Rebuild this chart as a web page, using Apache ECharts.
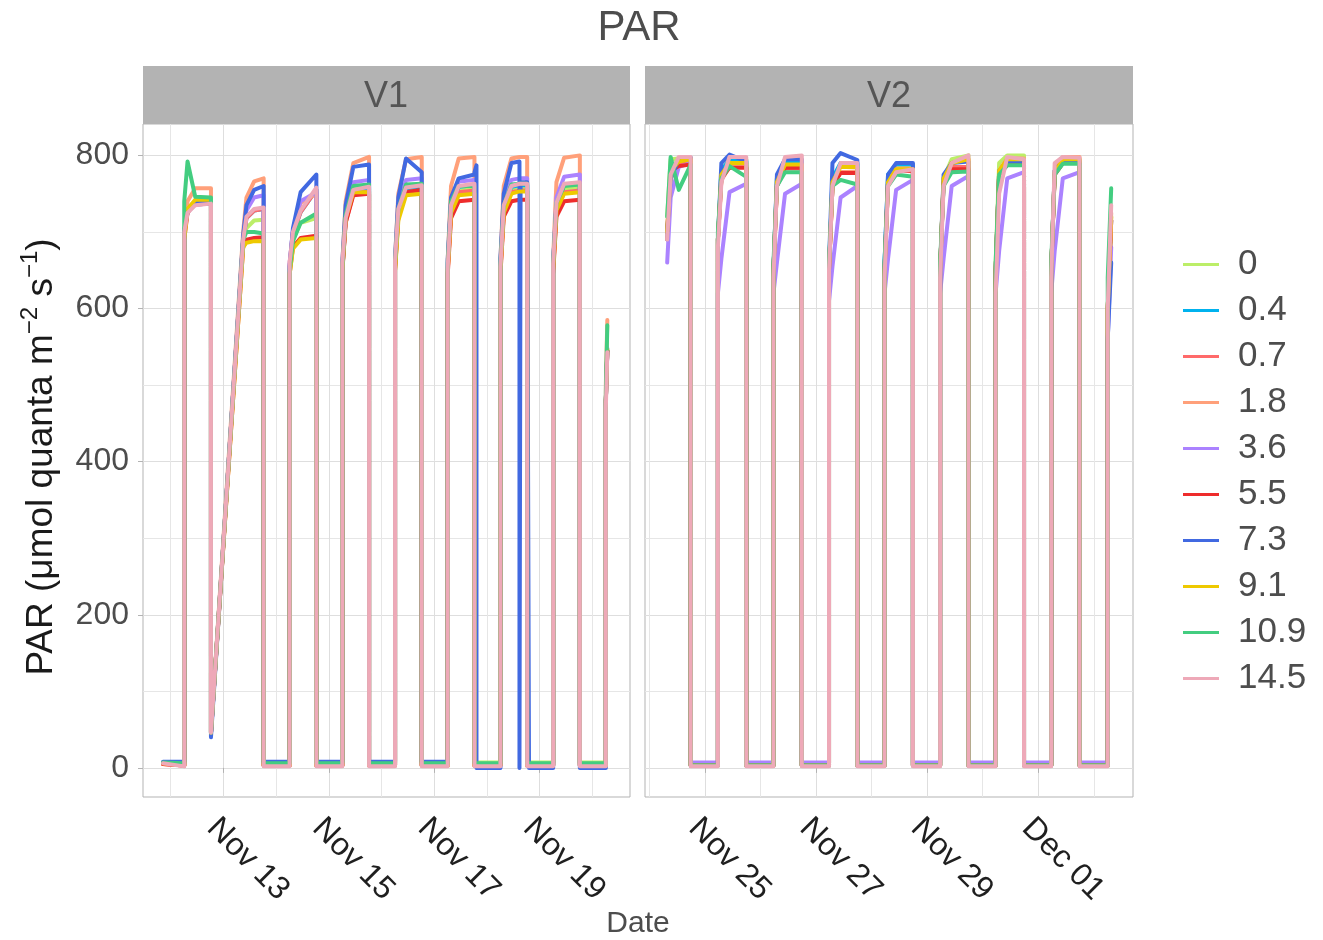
<!DOCTYPE html>
<html>
<head>
<meta charset="utf-8">
<script src="https://cdn.jsdelivr.net/npm/echarts@6/dist/echarts.min.js"></script>
<style>
  html, body { margin: 0; padding: 0; background: #ffffff; }
  #chart { width: 1323px; height: 940px; }
</style>
</head>
<body>
<div id="chart"></div>
<script>
// PAR logger traces for two tanks (V1, V2), one line per sensor depth.
const YEAR = 2023;
const seriesNames = ['0', '0.4', '0.7', '1.8', '3.6', '5.5', '7.3', '9.1', '10.9', '14.5'];
const seriesColors = ['#BCEE68', '#00B2EE', '#FF6A6A', '#FFA07A', '#AB82FF',
                      '#EE2C2C', '#4169E1', '#EEC900', '#43CD80', '#EEA9B8'];

// ---- V1: sample times, grouped by light period ----
const v1Times = [
  ['11-11 20:30'],
  ['11-12 06:10', '11-12 06:10', '11-12 07:40', '11-12 11:10', '11-12 18:20', '11-12 18:20'],
  ['11-13 09:00', '11-13 10:30', '11-13 14:00', '11-13 18:20', '11-13 18:20'],
  ['11-14 06:10', '11-14 06:10', '11-14 07:40', '11-14 11:10', '11-14 18:20', '11-14 18:20'],
  ['11-15 06:10', '11-15 06:10', '11-15 07:40', '11-15 11:10', '11-15 18:20', '11-15 18:20'],
  ['11-16 06:10', '11-16 06:10', '11-16 07:40', '11-16 11:10', '11-16 18:20', '11-16 18:20'],
  ['11-17 06:10', '11-17 06:10', '11-17 07:40', '11-17 11:10', '11-17 18:20', '11-17 18:20', '11-17 19:15', '11-17 19:15'],
  ['11-18 06:10', '11-18 06:10', '11-18 07:40', '11-18 11:10', '11-18 14:50', '11-18 14:50', '11-18 15:20', '11-18 15:20', '11-18 18:20', '11-18 18:20', '11-18 19:10', '11-18 19:10'],
  ['11-19 06:10', '11-19 06:10', '11-19 07:40', '11-19 11:10', '11-19 18:20', '11-19 18:20'],
  ['11-20 06:10', '11-20 06:10', '11-20 06:50']
];

// ---- V1 readings (µmol quanta m-2 s-1) ----
const v1_0 = [[7], [7, 700, 728, 737, 738, 45], [688, 705, 715, 716, 7], [7, 650, 690, 712, 718, 7], [7, 650, 715, 753, 756, 7], [7, 655, 725, 756, 758, 7], [7, 655, 730, 757, 758, 7, 7, 7], [7, 655, 730, 757, 758, 758, 758, 758, 758, 7, 7, 7], [7, 655, 730, 757, 758, 7], [7, 480, 548]];
const v1_04 = [[6], [3, 700, 726, 736, 737, 45], [690, 718, 728, 730, 3], [3, 655, 698, 726, 755, 3], [3, 650, 715, 754, 758, 3], [3, 655, 725, 757, 759, 3], [3, 655, 732, 759, 761, 3, 3, 3], [3, 655, 732, 759, 761, 761, 761, 761, 761, 3, 3, 3], [3, 658, 735, 762, 764, 3], [3, 480, 545]];
const v1_07 = [[5], [3, 700, 726, 736, 737, 45], [690, 718, 728, 730, 3], [3, 655, 698, 726, 755, 3], [3, 650, 712, 750, 753, 3], [3, 652, 722, 752, 754, 3], [3, 650, 725, 752, 754, 3, 3, 3], [3, 650, 725, 752, 754, 754, 754, 754, 754, 3, 3, 3], [3, 650, 725, 752, 754, 3], [3, 480, 545]];
const v1_18 = [[5], [3, 700, 740, 757, 757, 47], [700, 745, 766, 770, 3], [3, 660, 700, 738, 750, 3], [3, 660, 740, 790, 798, 3], [3, 665, 750, 795, 798, 3], [3, 665, 760, 796, 798, 3, 3, 3], [3, 665, 760, 796, 798, 798, 798, 798, 798, 3, 3, 3], [3, 665, 765, 797, 800, 3], [3, 500, 585]];
const v1_36 = [[6], [4, 700, 726, 736, 737, 45], [690, 728, 745, 748, 4], [4, 660, 702, 740, 752, 4], [4, 655, 720, 765, 768, 4], [4, 660, 730, 768, 770, 4], [4, 660, 740, 766, 768, 4, 4, 4], [4, 660, 740, 768, 770, 770, 770, 770, 770, 4, 4, 4], [4, 660, 745, 772, 775, 4], [4, 480, 548]];
const v1_55 = [[5], [3, 690, 725, 740, 740, 45], [680, 690, 692, 693, 3], [3, 645, 680, 692, 695, 3], [3, 648, 712, 748, 750, 3], [3, 650, 720, 752, 755, 3], [3, 645, 718, 740, 742, 3, 3, 3], [3, 645, 720, 740, 742, 742, 742, 742, 742, 3, 3, 3], [3, 645, 720, 740, 742, 3], [3, 480, 545]];
const v1_73 = [[8], [8, 700, 728, 738, 738, 40], [695, 735, 755, 760, 8], [8, 655, 705, 752, 775, 8], [8, 660, 735, 785, 788, 8], [8, 665, 745, 796, 778, 8], [8, 665, 745, 770, 775, 778, 787, 0], [0, 665, 750, 790, 792, 0, 0, 765, 765, 765, 765, 0], [0, 660, 735, 762, 764, 0], [0, 480, 545]];
const v1_91 = [[6], [3, 690, 730, 742, 742, 46], [680, 686, 688, 688, 3], [3, 645, 678, 690, 692, 3], [3, 650, 718, 752, 752, 3], [3, 648, 715, 748, 750, 3], [3, 650, 725, 748, 750, 3, 3, 3], [3, 650, 725, 750, 753, 753, 753, 753, 753, 3, 3, 3], [3, 650, 728, 750, 752, 3], [3, 480, 546]];
const v1_109 = [[7], [6, 740, 792, 746, 745, 46], [690, 700, 700, 698, 6], [6, 650, 688, 712, 724, 6], [6, 655, 722, 760, 762, 6], [6, 660, 730, 762, 763, 6], [6, 660, 740, 760, 760, 6, 6, 6], [6, 660, 735, 762, 763, 763, 763, 763, 763, 6, 6, 6], [6, 660, 738, 760, 762, 6], [6, 490, 578]];
const v1_145 = [[6], [2, 700, 725, 735, 737, 46], [690, 720, 730, 732, 2], [2, 660, 700, 728, 758, 2], [2, 660, 718, 755, 759, 2], [2, 663, 730, 758, 761, 2], [2, 655, 735, 760, 763, 2, 2, 2], [2, 655, 735, 760, 763, 763, 763, 763, 763, 2, 2, 2], [2, 658, 738, 763, 765, 2], [2, 470, 543]];

// ---- V2: sample times ----
const v2Times = [
  ['11-24 07:40', '11-24 09:10', '11-24 12:40', '11-24 17:50', '11-24 17:50'],
  ['11-25 05:35', '11-25 05:35', '11-25 07:05', '11-25 10:35', '11-25 17:50', '11-25 17:50'],
  ['11-26 05:35', '11-26 05:35', '11-26 07:05', '11-26 10:35', '11-26 17:50', '11-26 17:50'],
  ['11-27 05:35', '11-27 05:35', '11-27 07:05', '11-27 10:35', '11-27 17:50', '11-27 17:50'],
  ['11-28 05:35', '11-28 05:35', '11-28 07:05', '11-28 10:35', '11-28 17:50', '11-28 17:50'],
  ['11-29 05:35', '11-29 05:35', '11-29 07:05', '11-29 10:35', '11-29 17:50', '11-29 17:50'],
  ['11-30 05:35', '11-30 05:35', '11-30 07:05', '11-30 10:35', '11-30 17:50', '11-30 17:50'],
  ['12-01 05:35', '12-01 05:35', '12-01 07:05', '12-01 10:35', '12-01 17:50', '12-01 17:50'],
  ['12-02 06:00', '12-02 06:00', '12-02 07:30']
];

// ---- V2 readings ----
const v2_0 = [[720, 795, 796, 796, 3], [3, 690, 780, 795, 795, 3], [3, 650, 770, 794, 794, 3], [3, 650, 770, 788, 788, 3], [3, 650, 770, 785, 785, 3], [3, 650, 770, 795, 800, 3], [3, 660, 790, 800, 800, 3], [3, 650, 780, 795, 795, 3], [3, 600, 720]];
const v2_04 = [[690, 780, 795, 797, 3], [3, 690, 780, 794, 794, 3], [3, 650, 770, 792, 792, 3], [3, 650, 770, 790, 790, 3], [3, 660, 775, 788, 788, 3], [3, 650, 765, 783, 783, 3], [3, 650, 778, 790, 790, 3], [3, 650, 780, 792, 792, 3], [3, 600, 715]];
const v2_07 = [[690, 770, 788, 790, 3], [3, 690, 768, 785, 785, 3], [3, 650, 760, 783, 783, 3], [3, 650, 760, 778, 778, 3], [3, 650, 765, 780, 780, 3], [3, 650, 765, 785, 785, 3], [3, 650, 775, 788, 788, 3], [3, 650, 775, 790, 790, 3], [3, 600, 715]];
const v2_18 = [[700, 780, 795, 797, 3], [3, 690, 770, 786, 786, 3], [3, 650, 762, 785, 785, 3], [3, 650, 760, 778, 779, 3], [3, 650, 770, 783, 783, 3], [3, 650, 770, 790, 795, 3], [3, 650, 780, 796, 796, 3], [3, 650, 780, 798, 798, 3], [3, 600, 725]];
const v2_36 = [[660, 745, 785, 790, 7], [7, 620, 665, 752, 763, 7], [7, 620, 660, 750, 763, 7], [7, 610, 655, 745, 760, 7], [7, 620, 665, 755, 768, 7], [7, 620, 665, 760, 773, 7], [7, 620, 675, 770, 778, 7], [7, 620, 675, 770, 778, 7], [7, 560, 680]];
const v2_55 = [[700, 780, 786, 788, 3], [3, 690, 770, 784, 784, 3], [3, 650, 760, 784, 784, 3], [3, 650, 760, 777, 777, 3], [3, 650, 765, 780, 780, 3], [3, 650, 765, 782, 782, 3], [3, 650, 775, 788, 788, 3], [3, 650, 775, 790, 790, 3], [3, 600, 715]];
const v2_73 = [[700, 770, 795, 797, 3], [3, 690, 790, 801, 792, 3], [3, 650, 775, 795, 795, 3], [3, 660, 790, 803, 794, 3], [3, 660, 775, 790, 790, 3], [3, 650, 775, 790, 792, 3], [3, 650, 780, 792, 792, 3], [3, 650, 780, 793, 793, 3], [3, 560, 660]];
const v2_91 = [[700, 780, 792, 795, 3], [3, 690, 775, 790, 790, 3], [3, 650, 765, 788, 788, 3], [3, 650, 765, 785, 785, 3], [3, 650, 765, 782, 782, 3], [3, 650, 770, 790, 795, 3], [3, 650, 780, 795, 795, 3], [3, 650, 778, 795, 795, 3], [3, 600, 720]];
const v2_109 = [[720, 798, 755, 788, 3], [3, 700, 770, 786, 772, 3], [3, 660, 760, 778, 778, 3], [3, 660, 760, 768, 762, 3], [3, 660, 760, 775, 772, 3], [3, 660, 760, 778, 779, 3], [3, 660, 775, 787, 787, 3], [3, 660, 775, 789, 789, 3], [3, 640, 757]];
const v2_145 = [[690, 775, 798, 798, 2], [2, 680, 765, 798, 798, 2], [2, 640, 760, 798, 800, 2], [2, 650, 760, 790, 790, 2], [2, 640, 760, 778, 782, 2], [2, 640, 760, 790, 800, 2], [2, 620, 750, 798, 795, 2], [2, 640, 790, 798, 797, 2], [2, 600, 735]];

const v1Values = [v1_0, v1_04, v1_07, v1_18, v1_36, v1_55, v1_73, v1_91, v1_109, v1_145];
const v2Values = [v2_0, v2_04, v2_07, v2_18, v2_36, v2_55, v2_73, v2_91, v2_109, v2_145];

// ---- axes: date ticks and labels ----
const v1Range = ['11-11 11:23', '11-20 17:10'];
const v2Range = ['11-23 22:05', '12-02 16:55'];
const v1MajorDates = ['11-13', '11-15', '11-17', '11-19'];
const v1TickLabels = ['Nov 13', 'Nov 15', 'Nov 17', 'Nov 19'];
const v1MinorDates = ['11-12', '11-14', '11-16', '11-18', '11-20'];
const v2MajorDates = ['11-25', '11-27', '11-29', '12-01'];
const v2TickLabels = ['Nov 25', 'Nov 27', 'Nov 29', 'Dec 01'];
const v2MinorDates = ['11-24', '11-26', '11-28', '11-30', '12-02'];
const yRange = [-38, 841];
const yMajor = [0, 200, 400, 600, 800];
const yMinor = [100, 300, 500, 700];

const FONT = '"Liberation Sans", Arial, Helvetica, sans-serif';

function ts(s) {
  const parts = s.split(' ');
  const md = parts[0].split('-').map(Number);
  const hm = (parts[1] || '00:00').split(':').map(Number);
  return new Date(YEAR, md[0] - 1, md[1], hm[0], hm[1]).getTime();
}

function buildPoints(times, values) {
  const pts = [];
  times.forEach((seg, i) => {
    seg.forEach((t, j) => pts.push([ts(t), values[i][j]]));
  });
  return pts;
}

function xAxes(gridIndex, range, majorDates, labels, minorDates) {
  const majorVals = majorDates.map(ts);
  const minorVals = minorDates.map(ts);
  const min = ts(range[0]), max = ts(range[1]);
  return [
    {
      type: 'value', gridIndex, min, max, position: 'bottom',
      axisLine: { show: false },
      axisTick: { show: true, customValues: majorVals, length: 5, lineStyle: { color: '#B3B3B3', width: 1 } },
      axisLabel: {
        show: true, customValues: majorVals, rotate: -45, margin: 15, verticalAlign: 'top',
        fontSize: 32, color: '#1f1f1f', fontFamily: FONT,
        formatter: (v) => {
          const k = majorVals.findIndex(m => Math.abs(m - v) < 60000);
          return k >= 0 ? labels[k] : '';
        }
      },
      splitLine: { show: true, lineStyle: { color: '#DEDEDE', width: 1 } }
    },
    {
      type: 'value', gridIndex, min, max, position: 'bottom',
      axisLine: { show: false },
      axisTick: { show: false, customValues: minorVals },
      axisLabel: { show: false, customValues: minorVals },
      splitLine: { show: true, lineStyle: { color: '#E6E6E6', width: 1 } }
    }
  ];
}

function yAxes(gridIndex, withLabels) {
  return [
    {
      type: 'value', gridIndex, min: yRange[0], max: yRange[1], position: 'left',
      axisLine: { show: false },
      axisTick: { show: withLabels, customValues: yMajor, length: 5, lineStyle: { color: '#B3B3B3', width: 1 } },
      axisLabel: { show: withLabels, customValues: yMajor, margin: 14, fontSize: 32, color: '#4d4d4d', fontFamily: FONT },
      splitLine: { show: true, lineStyle: { color: '#DEDEDE', width: 1 } }
    },
    {
      type: 'value', gridIndex, min: yRange[0], max: yRange[1], position: 'left',
      axisLine: { show: false },
      axisTick: { show: false, customValues: yMinor },
      axisLabel: { show: false, customValues: yMinor },
      splitLine: { show: true, lineStyle: { color: '#E6E6E6', width: 1 } }
    }
  ];
}

const series = [];
[[v1Times, v1Values, 0], [v2Times, v2Values, 2]].forEach(([times, values, axisIdx]) => {
  seriesNames.forEach((name, i) => {
    series.push({
      name, type: 'line', xAxisIndex: axisIdx, yAxisIndex: axisIdx,
      data: buildPoints(times, values[i]),
      symbol: 'none', showSymbol: false, smooth: false, clip: true,
      color: seriesColors[i],
      lineStyle: { width: 4, color: seriesColors[i], cap: 'round', join: 'round' },
      emphasis: { disabled: true }
    });
  });
});

const chart = echarts.init(document.getElementById('chart'), null, { renderer: 'canvas' });
chart.setOption({
  animation: false,
  backgroundColor: '#ffffff',
  textStyle: { fontFamily: FONT },
  grid: [
    { left: 143, top: 124, width: 487, height: 673, show: true, borderColor: '#B3B3B3', borderWidth: 1, backgroundColor: 'transparent', outerBoundsMode: 'none' },
    { left: 645, top: 124, width: 488, height: 673, show: true, borderColor: '#B3B3B3', borderWidth: 1, backgroundColor: 'transparent', outerBoundsMode: 'none' }
  ],
  xAxis: [
    ...xAxes(0, v1Range, v1MajorDates, v1TickLabels, v1MinorDates),
    ...xAxes(1, v2Range, v2MajorDates, v2TickLabels, v2MinorDates)
  ],
  yAxis: [...yAxes(0, true), ...yAxes(1, false)],
  legend: {
    orient: 'vertical', left: 1183, top: 247, padding: 0,
    icon: 'rect',
    itemWidth: 36, itemHeight: 3, itemGap: 11,
    data: seriesNames,
    selectedMode: false,
    lineStyle: { width: 3 },
    textStyle: { fontSize: 35, color: '#4d4d4d', lineHeight: 32, padding: [0, 0, 0, 14], fontFamily: FONT }
  },
  graphic: [
    { type: 'text', x: 639, y: 28, style: { text: 'PAR', fontSize: 42, fontFamily: FONT, fill: '#4d4d4d', align: 'center', verticalAlign: 'middle' } },
    { type: 'rect', shape: { x: 143, y: 66, width: 487, height: 58 }, style: { fill: '#B3B3B3' } },
    { type: 'rect', shape: { x: 645, y: 66, width: 488, height: 58 }, style: { fill: '#B3B3B3' } },
    { type: 'text', x: 386, y: 97, style: { text: 'V1', fontSize: 36, fontFamily: FONT, fill: '#555555', align: 'center', verticalAlign: 'middle' } },
    { type: 'text', x: 889, y: 97, style: { text: 'V2', fontSize: 36, fontFamily: FONT, fill: '#555555', align: 'center', verticalAlign: 'middle' } },
    { type: 'text', x: 638, y: 924, style: { text: 'Date', fontSize: 30, fontFamily: FONT, fill: '#4d4d4d', align: 'center', verticalAlign: 'middle' } },
    {
      type: 'text', x: 42, y: 457, rotation: Math.PI / 2,
      style: {
        text: '{b|PAR (μmol quanta m}{s|−2}{b| s}{s|−1}{b|)}',
        align: 'center', verticalAlign: 'middle',
        rich: {
          b: { fontSize: 37, fontFamily: FONT, fill: '#1a1a1a', lineHeight: 48 },
          s: { fontSize: 24, fontFamily: FONT, fill: '#1a1a1a', lineHeight: 26, verticalAlign: 'top' }
        }
      }
    }
  ],
  series
});
</script>
</body>
</html>
